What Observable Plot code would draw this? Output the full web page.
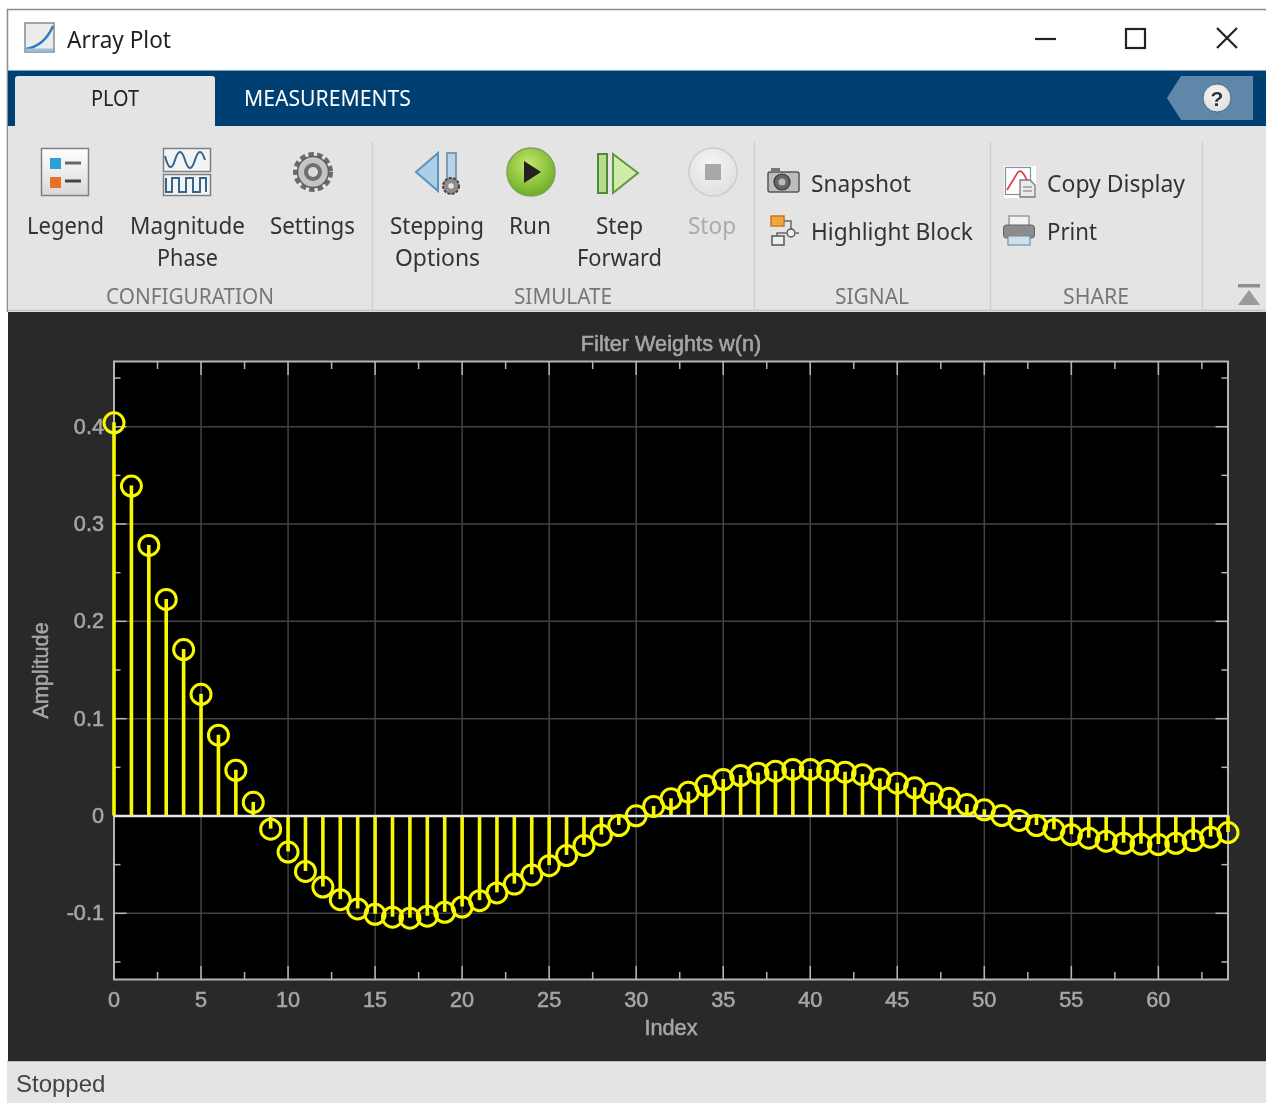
<!DOCTYPE html>
<html>
<head>
<meta charset="utf-8">
<script src="https://cdn.jsdelivr.net/npm/d3@7"></script>
<script src="https://cdn.jsdelivr.net/npm/@observablehq/plot@0.6"></script>
<style>
html,body{margin:0;padding:0;background:#fff;overflow:hidden;width:1266px;height:1103px}
#win{position:absolute;left:0;top:0;width:1266px;height:1103px;filter:blur(.6px)}
#chrome{position:absolute;left:0;top:0;display:block}
#chrome text{font-family:"Noto Sans",sans-serif;font-size:24px;fill:#333;dominant-baseline:central;transform:translateY(-2px)}
#chrome text.sec{font-size:22px;fill:#777}
#plotbox{position:absolute;left:8px;top:312px;width:1258px;height:749px;background:#292929}
#plotbox svg{display:block}
#plotbox text{stroke:#a6a6a6;stroke-width:.55px}
#status{position:absolute;left:7px;top:1061px;width:1259px;height:42px;background:#e4e4e4;border-top:1px solid #bbb;box-sizing:border-box;font:24px "Liberation Sans",sans-serif;color:#444;line-height:44px;padding-left:9px}
</style>
</head>
<body>
<div id="win">
<svg id="chrome" width="1266" height="312" viewBox="0 0 1266 312">
  <defs>
    <linearGradient id="gw" x1="0" y1="0" x2="0" y2="1"><stop offset="0" stop-color="#fff"/><stop offset="1" stop-color="#d8d8d8"/></linearGradient>
    <radialGradient id="gg" cx=".45" cy=".35" r=".75"><stop offset="0" stop-color="#c5e86a"/><stop offset="1" stop-color="#5fa51c"/></radialGradient>
    <radialGradient id="gs" cx=".45" cy=".35" r=".75"><stop offset="0" stop-color="#f6f6f6"/><stop offset="1" stop-color="#dcdcdc"/></radialGradient>
  </defs>
  <rect x="7" y="9" width="1259" height="61" fill="#fff"/>
  <path d="M1266 9.5H7.5V312" fill="none" stroke="#8c8c8c" stroke-width="1.5"/>
  <!-- title bar -->
  <rect x="25" y="23" width="29" height="29" fill="#ececec" stroke="#8a8a8a" stroke-width="1.5"/>
  <path d="M26 49C38 47 47 40 53 26" fill="none" stroke="#2b7cc0" stroke-width="2.4"/>
  <path d="M26 50H53" stroke="#9bbfdc" stroke-width="3"/>
  <text x="67" y="40" textLength="104" lengthAdjust="spacingAndGlyphs" style="fill:#222">Array Plot</text>
  <path d="M1035 39H1056" stroke="#222" stroke-width="2.2"/>
  <rect x="1126" y="29" width="19" height="19" fill="none" stroke="#222" stroke-width="2.2"/>
  <path d="M1217 28L1237 48M1237 28L1217 48" stroke="#222" stroke-width="2.2"/>
  <!-- blue band -->
  <rect x="8" y="70" width="1258" height="56" fill="#003f72"/>
  <path d="M8 70.5H1266" stroke="#7f9fbc" stroke-width="1"/>
  <path d="M15 126V79Q15 76 18 76H212Q215 76 215 79V126Z" fill="#e4e4e4"/>
  <text x="91" y="99" textLength="48" lengthAdjust="spacingAndGlyphs" style="font-size:22px;fill:#222">PLOT</text>
  <text x="244" y="99" textLength="167" lengthAdjust="spacingAndGlyphs" style="font-size:22px;fill:#fff">MEASUREMENTS</text>
  <path d="M1167 98L1181 76H1253V120H1181Z" fill="#5e87aa"/>
  <circle cx="1217" cy="98" r="14" fill="url(#gs)" stroke="#33566f" stroke-width=".8"/>
  <text x="1217" y="100" text-anchor="middle" style="font:bold 21px 'Liberation Sans';fill:#333">?</text>
  <!-- ribbon -->
  <rect x="8" y="126" width="1258" height="186" fill="#e4e4e4"/>
  <path d="M8 310.5H1266" stroke="#c4c4c4" stroke-width="1.5"/>
  <path d="M372.5 142V310M754.5 142V310M990.5 142V310M1202.5 142V310" stroke="#cfcfcf" stroke-width="1.5"/>
  <!-- legend icon -->
  <rect x="41.5" y="148.5" width="47" height="47" fill="url(#gw)" stroke="#808080" stroke-width="1.5"/>
  <rect x="50" y="158" width="11" height="11" fill="#2f9fd8"/>
  <path d="M65 163H81" stroke="#666" stroke-width="3"/>
  <rect x="50" y="177" width="11" height="11" fill="#e8702a"/>
  <path d="M65 181H81" stroke="#444" stroke-width="3"/>
  <!-- magnitude phase icon -->
  <rect x="163.5" y="148.5" width="47" height="23" fill="#f4f4f4" stroke="#808080" stroke-width="1.5"/>
  <rect x="163.5" y="174.5" width="47" height="21" fill="#f4f4f4" stroke="#808080" stroke-width="1.5"/>
  <path d="M165 156Q170 176 175 160T185 160T195 160T205 160" fill="none" stroke="#34658f" stroke-width="2"/>
  <path d="M166 178V192H172V178H179V192H186V178H193V192H200V178H206V192" fill="none" stroke="#34658f" stroke-width="2"/>
  <!-- settings -->
  <circle cx="313" cy="172" r="17.5" fill="none" stroke="#6a6a6a" stroke-width="5" stroke-dasharray="5.4 3.2"/>
  <circle cx="313" cy="172" r="15.5" fill="#c4c4c4" stroke="#5c5c5c" stroke-width="1.5"/>
  <circle cx="313" cy="172" r="9" fill="#6f6f6f"/>
  <circle cx="313" cy="172" r="5" fill="#dcdcdc"/>
  <!-- stepping options -->
  <path d="M416 172L438 153V191Z" fill="#abcfe9" stroke="#5c93bc" stroke-width="2"/>
  <rect x="447" y="153" width="9" height="33" fill="#b9d3e6" stroke="#6b8da6" stroke-width="1.6"/>
  <circle cx="451" cy="186" r="8" fill="#8d8d8d" stroke="#444" stroke-width="2" stroke-dasharray="3 1.4"/>
  <circle cx="451" cy="186" r="2.8" fill="#e4e4e4"/>
  <!-- run -->
  <circle cx="531" cy="172" r="24" fill="url(#gg)" stroke="#7aa35a" stroke-width="1.5"/>
  <path d="M524 161L541 172L524 183Z" fill="#222"/>
  <!-- step forward -->
  <rect x="598" y="154" width="9" height="39" fill="#b8dc8b" stroke="#4e8a3a" stroke-width="2"/>
  <path d="M613 154L638 173L613 193Z" fill="#d0eaa9" stroke="#5c9a3c" stroke-width="2"/>
  <!-- stop -->
  <circle cx="713" cy="172" r="24" fill="url(#gs)" stroke="#cdcdcd" stroke-width="1.5"/>
  <rect x="705" y="164" width="16" height="16" fill="#a9a9a9"/>
  <!-- snapshot -->
  <rect x="768" y="172" width="31" height="20" rx="2" fill="#bdbdbd" stroke="#555" stroke-width="1.5"/>
  <rect x="771" y="168" width="9" height="4" fill="#777"/>
  <circle cx="782" cy="182" r="8" fill="#666" stroke="#333" stroke-width="1.2"/>
  <circle cx="782" cy="182" r="3.5" fill="#bbb"/>
  <!-- highlight -->
  <rect x="771" y="216" width="13" height="10" fill="#f2a63e" stroke="#c9762a" stroke-width="1.5"/>
  <path d="M784 221H791V233M799 233H796M786 233H777V241" fill="none" stroke="#666" stroke-width="1.5"/>
  <circle cx="791" cy="233" r="4" fill="#eee" stroke="#555" stroke-width="1.5"/>
  <rect x="772" y="236" width="12" height="9" fill="#eee" stroke="#555" stroke-width="1.5"/>
  <!-- copy display -->
  <rect x="1004" y="166" width="32" height="32" fill="#fff"/>
  <rect x="1005.5" y="167.5" width="25" height="27" fill="#fff" stroke="#7a93a8" stroke-width="1.2"/>
  <path d="M1007 190L1018 172Q1023 168 1029 186" fill="none" stroke="#e0333c" stroke-width="1.6"/>
  <path d="M1020 180H1030L1035 185V197H1020Z" fill="#eaeaea" stroke="#777" stroke-width="1.3"/>
  <path d="M1023 187H1032M1023 191H1032" stroke="#777" stroke-width="1"/>
  <!-- print -->
  <rect x="1009" y="216" width="20" height="10" fill="#f2f2f2" stroke="#888" stroke-width="1.2"/>
  <rect x="1003.5" y="225" width="31" height="13" rx="3" fill="#8c8c8c" stroke="#666" stroke-width="1"/>
  <rect x="1008" y="236" width="22" height="9" fill="#cfe0ec" stroke="#7a8fa0" stroke-width="1.2"/>
  <!-- collapse -->
  <rect x="1238" y="284" width="22" height="3.5" fill="#8f8f8f"/>
  <path d="M1249 290L1238 305H1260Z" fill="#9a9a9a"/>
  <!-- labels -->
  <text x="27" y="226" textLength="77" lengthAdjust="spacingAndGlyphs">Legend</text>
  <text x="130" y="226" textLength="115" lengthAdjust="spacingAndGlyphs">Magnitude</text>
  <text x="157" y="258" textLength="61" lengthAdjust="spacingAndGlyphs">Phase</text>
  <text x="270" y="226" textLength="85" lengthAdjust="spacingAndGlyphs">Settings</text>
  <text x="390" y="226" textLength="94" lengthAdjust="spacingAndGlyphs">Stepping</text>
  <text x="395" y="258" textLength="85" lengthAdjust="spacingAndGlyphs">Options</text>
  <text x="509" y="226" textLength="42" lengthAdjust="spacingAndGlyphs">Run</text>
  <text x="596" y="226" textLength="47" lengthAdjust="spacingAndGlyphs">Step</text>
  <text x="577" y="258" textLength="85" lengthAdjust="spacingAndGlyphs">Forward</text>
  <text x="688" y="226" textLength="48" lengthAdjust="spacingAndGlyphs" style="fill:#ababab">Stop</text>
  <text x="811" y="184" textLength="100" lengthAdjust="spacingAndGlyphs">Snapshot</text>
  <text x="811" y="232" textLength="162" lengthAdjust="spacingAndGlyphs">Highlight Block</text>
  <text x="1047" y="184" textLength="138" lengthAdjust="spacingAndGlyphs">Copy Display</text>
  <text x="1047" y="232" textLength="50" lengthAdjust="spacingAndGlyphs">Print</text>
  <text class="sec" x="106" y="297" textLength="168" lengthAdjust="spacingAndGlyphs">CONFIGURATION</text>
  <text class="sec" x="514" y="297" textLength="98" lengthAdjust="spacingAndGlyphs">SIMULATE</text>
  <text class="sec" x="835" y="297" textLength="74" lengthAdjust="spacingAndGlyphs">SIGNAL</text>
  <text class="sec" x="1063" y="297" textLength="66" lengthAdjust="spacingAndGlyphs">SHARE</text>
</svg>
<div id="plotbox"></div>
<div id="status">Stopped</div>
</div>
<script>
// Filter weights w(n), index 0..64
const weights = [
  0.404, 0.339, 0.278, 0.2225, 0.171, 0.125, 0.083, 0.047, 0.014, -0.0135,
  -0.037, -0.057, -0.073, -0.086, -0.0955, -0.101, -0.104, -0.105, -0.103, -0.099,
  -0.0935, -0.087, -0.079, -0.070, -0.0605, -0.051, -0.0406, -0.0303, -0.0197, -0.0098,
  0.0002, 0.0098, 0.0177, 0.0245, 0.0313, 0.0375, 0.0416, 0.044, 0.046, 0.0478,
  0.0478, 0.0468, 0.045, 0.0425, 0.038, 0.0337, 0.029, 0.0234, 0.0183, 0.0118,
  0.0064, 0.0005, -0.0046, -0.0098, -0.0142, -0.0193, -0.0228, -0.0259, -0.028, -0.029,
  -0.0293, -0.028, -0.0252, -0.0218, -0.017
];
const xMajor = [0, 5, 10, 15, 20, 25, 30, 35, 40, 45, 50, 55, 60];
const xMinor = [2.5, 7.5, 12.5, 17.5, 22.5, 27.5, 32.5, 37.5, 42.5, 47.5, 52.5, 57.5, 62.5];
const yMajor = [-0.1, 0, 0.1, 0.2, 0.3, 0.4];
const yMinor = [-0.15, -0.05, 0.05, 0.15, 0.25, 0.35, 0.45];
const xDomain = [0, 64];
const yDomain = [-0.168, 0.467];
const points = weights.map((w, i) => ({i, w}));

const TICK = "#b5b5b5", GRID = "#434343", TEXT = "#a6a6a6", YEL = "#f8f800";
const innerTicks = [];
for (const anchor of ["bottom", "top"]) {
  innerTicks.push(Plot.axisX(xMajor, {anchor, tickSize: -13, stroke: TICK, strokeWidth: 1.5, tickFormat: null, label: null, text: null}));
  innerTicks.push(Plot.axisX(xMinor, {anchor, tickSize: -7, stroke: TICK, strokeWidth: 1.5, tickFormat: null, label: null, text: null}));
}
for (const anchor of ["left", "right"]) {
  innerTicks.push(Plot.axisY(yMajor, {anchor, tickSize: -13, stroke: TICK, strokeWidth: 1.5, tickFormat: null, label: null, text: null}));
  innerTicks.push(Plot.axisY(yMinor, {anchor, tickSize: -7, stroke: TICK, strokeWidth: 1.5, tickFormat: null, label: null, text: null}));
}

const chart = Plot.plot({
  width: 1258, height: 749,
  marginLeft: 105.5, marginRight: 38.5, marginTop: 49, marginBottom: 82,
  style: {background: "transparent", fontFamily: "'Liberation Sans', Arial, sans-serif", fontSize: "21.7px", color: TEXT, overflow: "visible"},
  x: {domain: xDomain, label: null},
  y: {domain: yDomain, label: null},
  marks: [
    Plot.frame({fill: "#000", stroke: "none"}),
    Plot.ruleX(xMajor, {stroke: GRID, strokeWidth: 1.5}),
    Plot.ruleY(yMajor, {stroke: GRID, strokeWidth: 1.5}),
    ...innerTicks,
    Plot.frame({stroke: TICK, strokeWidth: 2}),
    Plot.axisX(xMajor, {anchor: "bottom", tickSize: 0, tickPadding: 12, fill: TEXT, label: "Index", labelAnchor: "center", labelArrow: "none", labelOffset: 55, tickFormat: String}),
    Plot.axisY(yMajor, {anchor: "left", tickSize: 0, tickPadding: 10, fill: TEXT, label: "Amplitude", labelAnchor: "center", labelArrow: "none", labelOffset: 81, tickFormat: String}),
    Plot.text(["Filter Weights w(n)"], {frameAnchor: "top", dy: -25.5, fill: TEXT}),
    Plot.ruleX(points, {x: "i", y1: 0, y2: "w", stroke: YEL, strokeWidth: 3.6}),
    Plot.ruleY([0], {stroke: "#e6e6e6", strokeWidth: 2.4}),
    Plot.dot(points, {x: "i", y: "w", r: 10, stroke: YEL, strokeWidth: 3, fill: "none"})
  ]
});
document.getElementById("plotbox").appendChild(chart);
</script>
</body>
</html>
